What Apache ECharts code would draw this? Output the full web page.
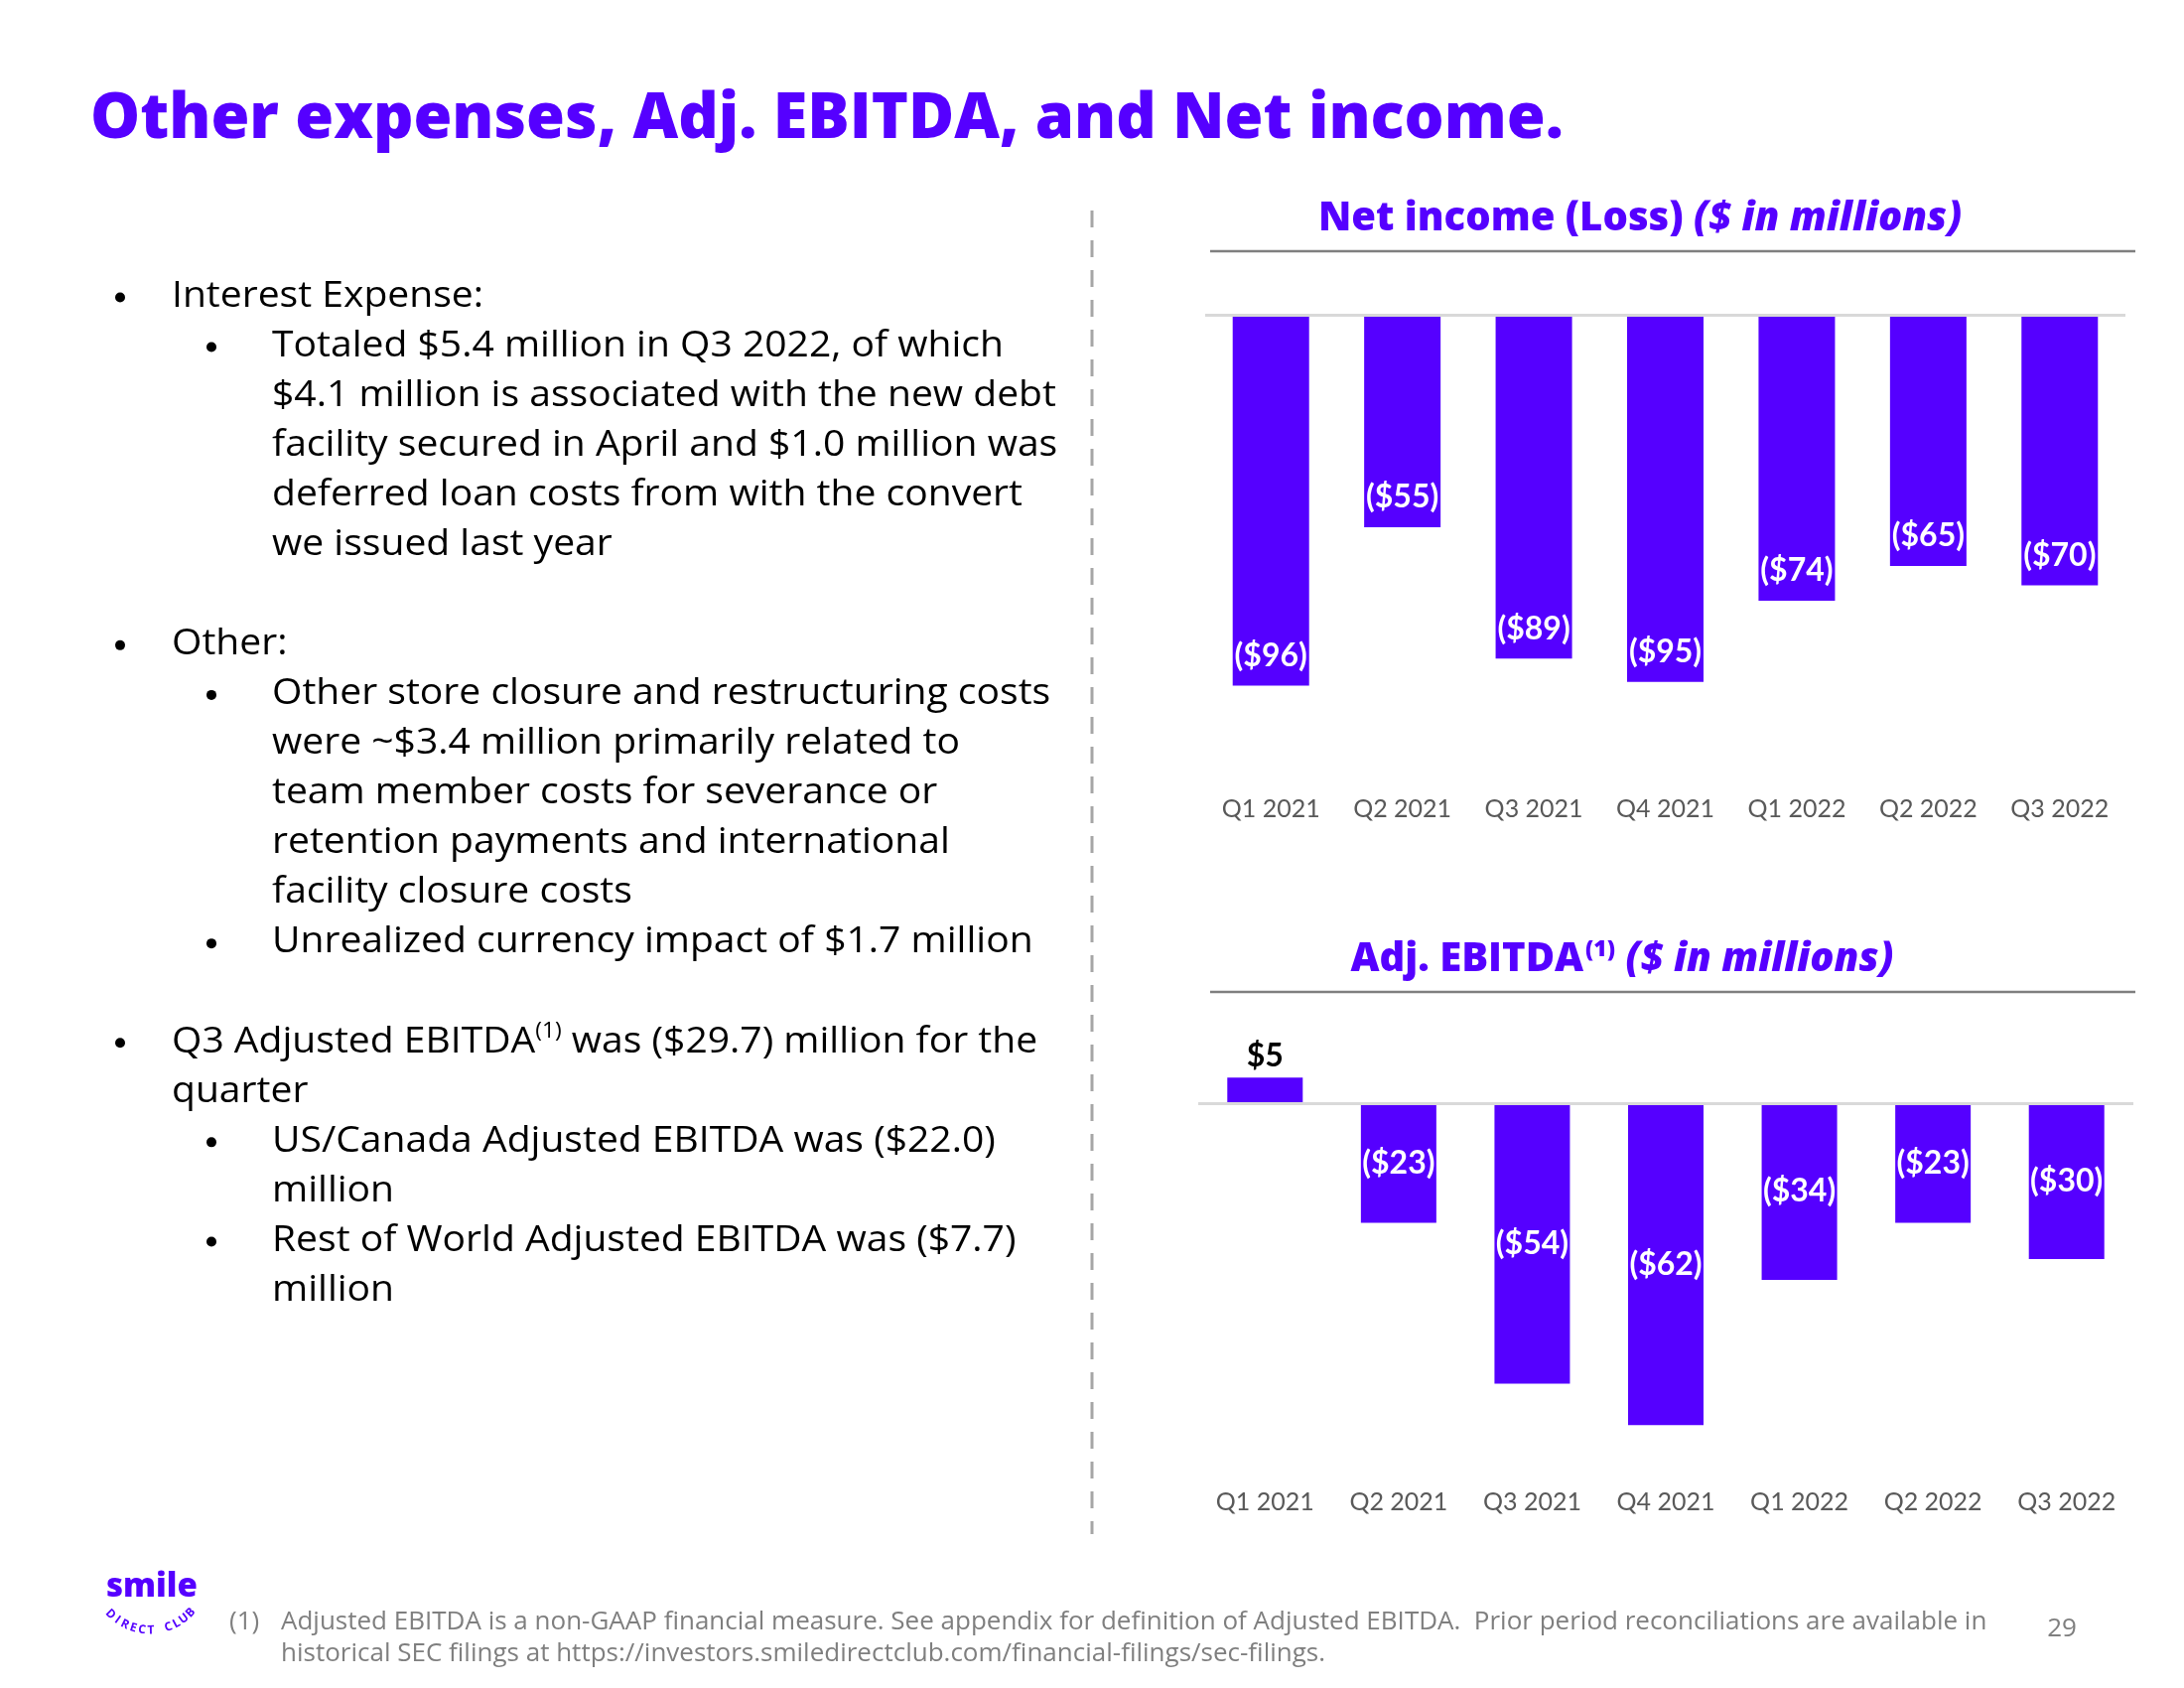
<!DOCTYPE html>
<html><head><meta charset="utf-8">
<script src="https://cdn.jsdelivr.net/npm/echarts@6/dist/echarts.min.js"></script>
<style>html,body{margin:0;padding:0;background:#fff}#c{width:2200px;height:1700px}</style>
</head><body><div id="c"></div>
<script>
// ---------- data ----------
const categories = ['Q1 2021','Q2 2021','Q3 2021','Q4 2021','Q1 2022','Q2 2022','Q3 2022'];
const netIncome = [-96,-55,-89,-95,-74,-65,-70];
const adjEbitda = [5,-23,-54,-62,-34,-23,-30];

const pageTitle = 'Other expenses, Adj. EBITDA, and Net income.';
const netTitle = ['Net income (Loss) ', '($ in millions)'];
const ebitdaTitle = ['Adj. EBITDA', '(1)', ' ($ in millions)'];

// body lines: [level, hasBullet, text]; null = blank line
const bodyLines = [
  [1, true, 'Interest Expense:'],
  [2, true, 'Totaled $5.4 million in Q3 2022, of which'],
  [2, false, '$4.1 million is associated with the new debt'],
  [2, false, 'facility secured in April and $1.0 million was'],
  [2, false, 'deferred loan costs from with the convert'],
  [2, false, 'we issued last year'],
  null,
  [1, true, 'Other:'],
  [2, true, 'Other store closure and restructuring costs'],
  [2, false, 'were ~$3.4 million primarily related to'],
  [2, false, 'team member costs for severance or'],
  [2, false, 'retention payments and international'],
  [2, false, 'facility closure costs'],
  [2, true, 'Unrealized currency impact of $1.7 million'],
  null,
  [1, true, ['Q3 Adjusted EBITDA', '(1)', ' was ($29.7) million for the']],
  [1, false, 'quarter'],
  [2, true, 'US/Canada Adjusted EBITDA was ($22.0)'],
  [2, false, 'million'],
  [2, true, 'Rest of World Adjusted EBITDA was ($7.7)'],
  [2, false, 'million']
];
const footnote = ['(1)',
  'Adjusted EBITDA is a non-GAAP financial measure. See appendix for definition of Adjusted EBITDA.  Prior period reconciliations are available in',
  'historical SEC filings at https://investors.smiledirectclub.com/financial-filings/sec-filings.'];
const pageNumber = '29';

// ---------- helpers ----------
const PURPLE = '#5500ff';
const FF = 'Lato';
const BF = '"Open Sans"';
const ctx = document.createElement('canvas').getContext('2d');
function tw(text, font){ ctx.font = font; return ctx.measureText(text).width; }
function txt(text, x, y, font, fill, align, sx){
  return {type:'text', silent:true, x:x, y:y, scaleX:sx||1,
    style:{text:text, x:0, y:0, font:font, fill:fill,
    textAlign:align||'left', align:align||'left', textVerticalAlign:'middle', verticalAlign:'middle'}};
}
const fmt = v => v < 0 ? '($' + Math.abs(v) + ')' : '$' + v;

const g = [];
// page title
g.push(txt(pageTitle, 91, 121, '800 63px ' + BF, PURPLE));

// body text
const bodyFont = '36px ' + BF;
const supFont = '21px ' + BF;
const SX = 1.085;
bodyLines.forEach((ln, i) => {
  if (!ln) return;
  const y = 298.5 + i * 50.05;
  const lvl = ln[0];
  const tx = lvl === 1 ? 173 : 274;
  const bx = lvl === 1 ? 121 : 213;
  if (ln[1]) g.push({type:'circle', silent:true, shape:{cx:bx, cy:y + 1, r:5}, style:{fill:'#000'}});
  if (Array.isArray(ln[2])) {
    let x = tx;
    const parts = ln[2];
    g.push(txt(parts[0], x, y, bodyFont, '#000', 'left', SX)); x += tw(parts[0], bodyFont) * SX;
    g.push(txt(parts[1], x, y - 10, supFont, '#000', 'left', SX)); x += tw(parts[1], supFont) * SX;
    g.push(txt(parts[2], x, y, bodyFont, '#000', 'left', SX));
  } else {
    g.push(txt(ln[2], tx, y, bodyFont, '#000', 'left', SX));
  }
});

// divider
g.push({type:'line', silent:true, shape:{x1:1100, y1:212, x2:1100, y2:1545},
  style:{stroke:'#a6a6a6', lineWidth:3, lineDash:[17,13]}});

// chart titles
(function(){
  const f1 = '800 40px ' + BF, f2 = 'italic 800 40px ' + BF, fs = '800 23px ' + BF;
  let w = tw(netTitle[0], f1) + tw(netTitle[1], f2);
  let x = 1652 - w/2;
  g.push(txt(netTitle[0], x, 221, f1, PURPLE)); x += tw(netTitle[0], f1);
  g.push(txt(netTitle[1], x, 221, f2, PURPLE));
  w = tw(ebitdaTitle[0], f1) + tw(ebitdaTitle[1], fs) + tw(ebitdaTitle[2], f2);
  x = 1633 - w/2;
  g.push(txt(ebitdaTitle[0], x, 967, f1, PURPLE)); x += tw(ebitdaTitle[0], f1);
  g.push(txt(ebitdaTitle[1], x + 2, 956, fs, PURPLE)); x += tw(ebitdaTitle[1], fs) + 2;
  g.push(txt(ebitdaTitle[2], x, 967, f2, PURPLE));
})();
g.push({type:'line', silent:true, shape:{x1:1219, y1:253, x2:2151, y2:253}, style:{stroke:'#7f7f7f', lineWidth:2.5}});
g.push({type:'line', silent:true, shape:{x1:1219, y1:999, x2:2151, y2:999}, style:{stroke:'#7f7f7f', lineWidth:2.5}});

// footer
g.push(txt(footnote[0], 231, 1634, '25px ' + BF, '#7f7f7f', 'left', 1.04));
g.push(txt(footnote[1], 283, 1634, '25px ' + BF, '#7f7f7f', 'left', 1.04));
g.push(txt(footnote[2], 283, 1666, '25px ' + BF, '#7f7f7f', 'left', 1.04));
g.push(txt(pageNumber, 2077, 1641, '26px ' + BF, '#7f7f7f', 'center'));

// logo
g.push(txt('smile', 107, 1599, '800 33px ' + BF, PURPLE));
(function(){
  const s = 'DIRECT CLUB';
  const cx = 151, cy = 1586, r = 56;
  const a0 = 135, a1 = 43;
  for (let i = 0; i < s.length; i++) {
    const a = (a0 + (a1 - a0) * i / (s.length - 1)) * Math.PI / 180;
    const x = cx + r * Math.cos(a), y = cy + r * Math.sin(a);
    g.push({type:'text', silent:true, x:x, y:y, rotation: -(a - Math.PI/2),
      style:{text:s[i], x:0, y:0, font:'bold 12px ' + BF, fill:PURPLE, textAlign:'center', align:'center', textVerticalAlign:'middle', verticalAlign:'middle'}});
  }
})();

// ---------- chart ----------
const axisLabel = {color:'#595959', fontSize:25, fontFamily:FF};
const zeroLine = {silent:true, symbol:['none','none'], label:{show:false},
  lineStyle:{color:'#d9d9d9', width:3, type:'solid'}, data:[{yAxis:0}]};
const barLabel = {show:true, formatter:p => fmt(p.value), fontWeight:'bold', fontSize:32, fontFamily:FF};
const option = {
  animation:false,
  grid:[
    {left:1214, top:317, width:927, height:467},
    {left:1207, top:1059, width:942, height:418}
  ],
  xAxis:[
    {type:'category', gridIndex:0, data:categories, axisLine:{show:false, onZero:false}, axisTick:{show:false},
      axisLabel:Object.assign({margin:18}, axisLabel)},
    {type:'category', gridIndex:1, data:categories, axisLine:{show:false, onZero:false}, axisTick:{show:false},
      axisLabel:Object.assign({margin:23}, axisLabel)}
  ],
  yAxis:[
    {type:'value', gridIndex:0, min:-120, max:0, show:false},
    {type:'value', gridIndex:1, min:-70, max:10, show:false}
  ],
  series:[
    {type:'bar', xAxisIndex:0, yAxisIndex:0, data:netIncome, barWidth:77,
      itemStyle:{color:PURPLE},
      label:Object.assign({}, barLabel, {position:'insideBottom', distance:14, color:'#fff'}),
      markLine:zeroLine},
    {type:'bar', xAxisIndex:1, yAxisIndex:1, barWidth:76,
      data:adjEbitda.map(v => ({value:v, label: v >= 0 ? {position:'top', color:'#000'} : {position:'inside', color:'#fff'}})),
      itemStyle:{color:PURPLE},
      label:barLabel,
      markLine:zeroLine}
  ],
  graphic:g
};
const chart = echarts.init(document.getElementById('c'), null, {renderer:'canvas'});
chart.setOption(option);
</script>
</body></html>
